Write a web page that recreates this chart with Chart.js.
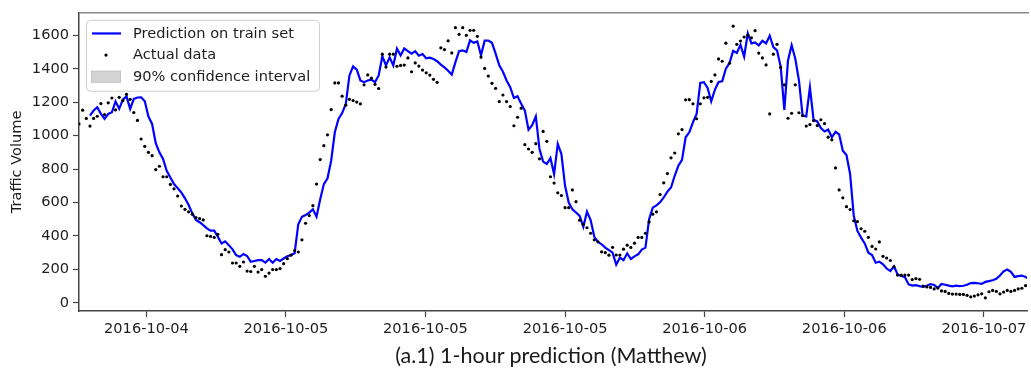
<!DOCTYPE html>
<html>
<head>
<meta charset="utf-8">
<script src="https://cdn.jsdelivr.net/npm/chart.js@4.4.0/dist/chart.umd.min.js"></script>
<style>
  html, body { margin: 0; padding: 0; background: #fff; overflow: hidden; }
  #wrap { position: relative; width: 1031px; height: 373px; }
  #caption {
    position: absolute; left: 551px; top: 342px; transform: translateX(-50%);
    white-space: nowrap; font-family: Lato, "Open Sans", sans-serif; font-size: 21.5px; color: #1a1a1a;
  }
</style>
</head>
<body>
<div id="wrap">
  <canvas id="c" width="1031" height="373"></canvas>
  <div id="caption">(a.1) 1-hour prediction (Matthew)</div>
</div>
<script>
// 15-minute traffic volume samples, sample index 0..260
const actualVolume = [
  1070,1152,1103,1057,1103,1116,1192,1126,1196,1225,
  1154,1229,1210,1247,1217,1138,1091,980,936,900,
  880,797,817,754,754,708,682,639,579,559,
  544,530,510,504,496,401,397,391,410,288,
  318,304,238,238,218,244,190,187,218,184,
  199,159,178,199,199,205,234,264,285,313,
  304,377,476,522,581,710,857,940,1005,1156,
  1315,1315,1236,1182,1217,1210,1201,1190,1304,1363,
  1344,1307,1282,1487,1410,1487,1487,1415,1420,1422,
  1465,1382,1435,1416,1392,1376,1362,1337,1319,1525,
  1515,1567,1495,1646,1606,1646,1600,1630,1630,1594,
  1470,1402,1356,1313,1283,1204,1243,1204,1174,1059,
  1110,1164,946,920,900,952,861,1025,966,754,
  716,658,642,569,569,675,605,494,470,449,
  416,377,365,305,300,285,332,286,286,321,
  345,331,357,391,391,416,484,530,544,648,
  718,773,867,896,1011,1036,1214,1215,1190,1101,
  1190,1226,1229,1324,1363,1459,1445,1553,1433,1655,
  1546,1566,1590,1600,1585,1628,1494,1465,1423,1130,
  1487,1546,1408,1304,1104,1134,1304,1137,1120,1057,
  1066,1090,1060,1095,1072,991,975,807,675,628,
  575,558,491,486,443,428,392,337,322,364,
  278,268,253,215,166,166,166,166,139,145,
  141,100,95,92,83,89,71,68,56,52,
  52,50,50,45,36,40,48,54,30,66,
  74,68,54,64,74,68,74,83,87,103,
  93
];

const predictedVolume = [
  null,null,null,1120,1150,1170,1130,1100,1130,1140,
  1205,1160,1215,1235,1160,1220,1228,1229,1205,1114,
  1070,955,900,860,790,750,710,686,660,625,
  585,535,496,482,465,445,432,432,395,355,
  368,345,320,285,275,292,280,245,250,255,
  255,240,262,240,262,250,265,278,286,296,
  470,515,525,540,560,515,620,710,745,850,
  1020,1100,1135,1190,1360,1414,1395,1330,1320,1330,
  1335,1320,1360,1475,1420,1468,1420,1520,1480,1522,
  1505,1490,1505,1478,1488,1463,1466,1458,1445,1425,
  1408,1388,1365,1440,1505,1510,1500,1570,1555,1563,
  1480,1568,1568,1555,1490,1420,1382,1330,1290,1225,
  1236,1190,1150,1035,1062,1115,920,845,830,865,
  770,950,890,700,600,560,540,520,455,545,
  495,395,365,350,330,315,300,228,270,255,
  296,262,278,290,318,330,500,569,583,601,
  630,665,690,760,820,855,990,1020,1080,1130,
  1315,1320,1285,1205,1275,1321,1325,1400,1434,1507,
  1495,1543,1473,1612,1552,1558,1539,1567,1552,1598,
  1530,1510,1412,1154,1450,1541,1460,1330,1120,1115,
  1289,1095,1085,1045,1025,1037,990,1023,1008,910,
  884,770,520,430,390,355,300,286,240,246,
  230,205,190,218,170,160,153,110,103,106,
  100,95,102,112,107,88,113,108,103,99,
  103,100,102,108,118,119,117,113,125,130,
  135,143,163,188,199,185,155,160,163,155,
  140
];

// date ticks along the sample axis
const tickIndex = [18.45, 56.6, 94.8, 133.0, 171.2, 209.4, 247.6];
const tickLabels = ['2016-10-04','2016-10-05','2016-10-05','2016-10-05','2016-10-06','2016-10-06','2016-10-07'];
const volumeTicks = [0, 200, 400, 600, 800, 1000, 1200, 1400, 1600];

const toPoints = arr => arr.map((v, i) => (v === null ? null : { x: i, y: v })).filter(p => p);

const FONT = 'DejaVu Sans';
const TEXT = '#1e1e1e';

// top spine of the axes frame
const topSpine = {
  id: 'topSpine',
  afterDraw(chart) {
    const { ctx, chartArea } = chart;
    ctx.save();
    ctx.strokeStyle = '#8a8a8a';
    ctx.lineWidth = 1.5;
    ctx.beginPath();
    ctx.moveTo(chartArea.left, chartArea.top);
    ctx.lineTo(chartArea.right + 2, chartArea.top);
    ctx.stroke();
    ctx.restore();
  }
};

// boxed legend in the upper-left corner of the axes
const boxLegend = {
  id: 'boxLegend',
  afterDraw(chart) {
    const { ctx, chartArea } = chart;
    const x0 = chartArea.left + 7, y0 = chartArea.top + 7, w = 233, h = 71;
    ctx.save();
    ctx.beginPath();
    ctx.roundRect(x0 + 0.5, y0 + 0.5, w, h, 4);
    ctx.fillStyle = 'rgba(255,255,255,0.85)';
    ctx.fill();
    ctx.strokeStyle = '#cfcfcf';
    ctx.lineWidth = 1;
    ctx.stroke();
    const rows = [13.7, 35.3, 57];
    ctx.font = '14.6px "' + FONT + '"';
    ctx.textBaseline = 'middle';
    chart.data.datasets.forEach((ds, k) => {
      const cy = y0 + rows[k];
      if (ds.legendKind === 'line') {
        ctx.strokeStyle = ds.borderColor;
        ctx.lineWidth = ds.borderWidth;
        ctx.beginPath();
        ctx.moveTo(x0 + 6, cy);
        ctx.lineTo(x0 + 35, cy);
        ctx.stroke();
      } else if (ds.legendKind === 'dot') {
        ctx.fillStyle = ds.backgroundColor;
        ctx.beginPath();
        ctx.arc(x0 + 20, cy, ds.pointRadius, 0, Math.PI * 2);
        ctx.fill();
      } else {
        ctx.fillStyle = ds.backgroundColor;
        ctx.fillRect(x0 + 5, cy - 6, 30, 12);
        ctx.strokeStyle = ds.borderColor;
        ctx.lineWidth = 1;
        ctx.strokeRect(x0 + 5.5, cy - 5.5, 29, 11);
      }
      ctx.fillStyle = TEXT;
      ctx.fillText(ds.label, x0 + 47, cy + 0.5);
    });
    ctx.restore();
  }
};

new Chart(document.getElementById('c'), {
  type: 'line',
  data: {
    datasets: [
      {
        label: 'Prediction on train set',
        legendKind: 'line',
        data: toPoints(predictedVolume),
        borderColor: '#0000ff',
        borderWidth: 2.2,
        pointRadius: 0,
        tension: 0,
        fill: false,
        order: 1
      },
      {
        label: 'Actual data',
        legendKind: 'dot',
        type: 'scatter',
        data: toPoints(actualVolume),
        showLine: false,
        backgroundColor: '#000',
        borderWidth: 0,
        pointRadius: 1.6,
        order: 0
      },
      {
        label: '90% confidence interval',
        legendKind: 'patch',
        data: [],
        backgroundColor: '#d4d4d4',
        borderColor: '#c4c4c4',
        borderWidth: 0,
        pointRadius: 0,
        order: 2
      }
    ]
  },
  options: {
    responsive: false,
    animation: false,
    devicePixelRatio: 1,
    layout: { padding: { top: 11, right: 0, bottom: 0, left: 0 } },
    plugins: { legend: { display: false }, tooltip: { enabled: false } },
    scales: {
      x: {
        type: 'linear',
        min: 0,
        max: 259.4,
        afterFit(scale) { scale.height = 62; },
        afterBuildTicks(scale) { scale.ticks = tickIndex.map(v => ({ value: v })); },
        ticks: {
          autoSkip: false, maxRotation: 0, padding: 3,
          color: TEXT, font: { family: FONT, size: 14.6 },
          callback: (v, i) => tickLabels[i]
        },
        grid: { drawOnChartArea: false, drawTicks: true, tickLength: 6, tickWidth: 1.2, color: '#444' },
        border: { display: true, color: '#444', width: 1.5 }
      },
      y: {
        min: -49,
        max: 1735,
        afterFit(scale) { scale.width = 79; },
        afterBuildTicks(scale) { scale.ticks = volumeTicks.map(v => ({ value: v })); },
        ticks: {
          padding: 4, color: TEXT, font: { family: FONT, size: 14.6 },
          callback: v => String(v)
        },
        grid: { drawOnChartArea: false, drawTicks: true, tickLength: 6, tickWidth: 1.2, color: '#444' },
        border: { display: true, color: '#444', width: 1.5 },
        title: {
          display: true, text: 'Traffic Volume', color: TEXT,
          font: { family: FONT, size: 14.6 }, padding: { top: 8, bottom: 0 }
        }
      }
    }
  },
  plugins: [topSpine, boxLegend]
});
</script>
</body>
</html>
